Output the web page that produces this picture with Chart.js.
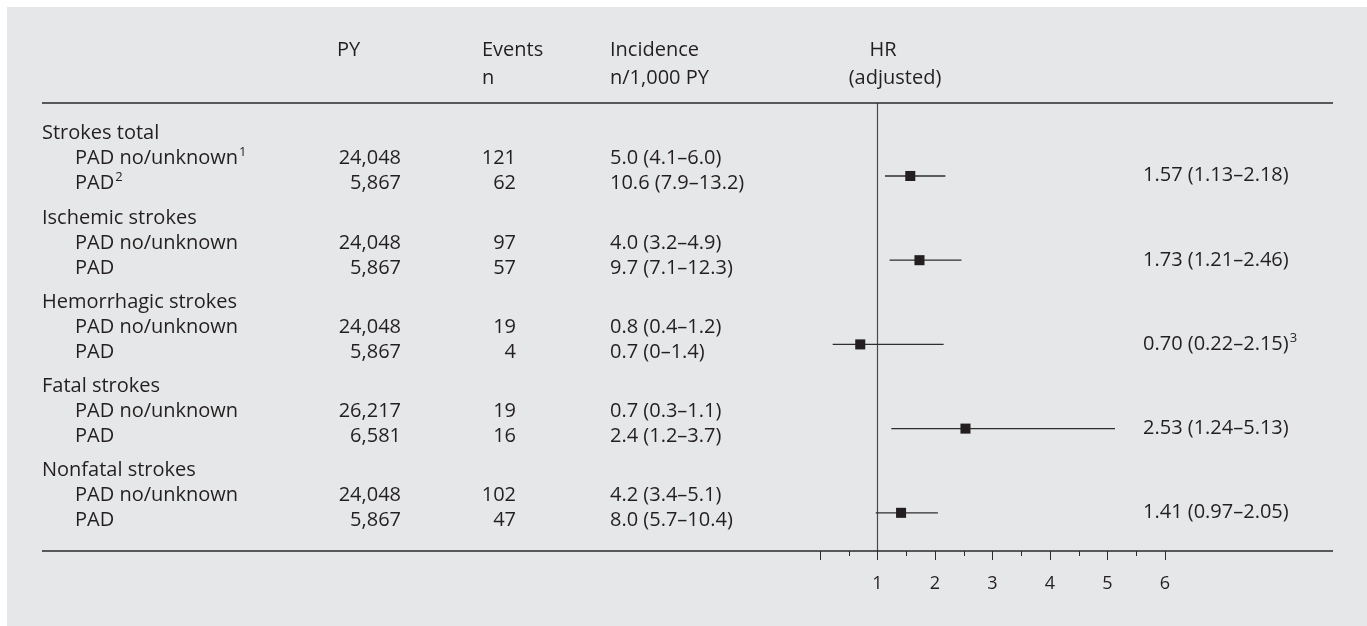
<!DOCTYPE html>
<html>
<head>
<meta charset="utf-8">
<script src="https://cdn.jsdelivr.net/npm/chart.js@4.4.1/dist/chart.umd.min.js"></script>
<style>
  html, body { margin: 0; padding: 0; background: #ffffff; }
  #wrap { position: absolute; left: 0; top: 0; width: 1367px; height: 626px; }
</style>
</head>
<body>
<div id="wrap"><canvas id="forest" width="1367" height="626"></canvas></div>
<script>
// ---- table data -------------------------------------------------------
const groupLabels = ['Strokes total', 'Ischemic strokes', 'Hemorrhagic strokes', 'Fatal strokes', 'Nonfatal strokes'];
const subgroupLabels = ['PAD no/unknown', 'PAD'];
const firstGroupNotes = ['1', '2'];          // footnote marks on the first group's rows
const hrNotes = ['', '', '3', '', ''];        // footnote marks on the HR labels

const personYears = [[24048, 5867], [24048, 5867], [24048, 5867], [26217, 6581], [24048, 5867]];
const eventCounts = [[121, 62], [97, 57], [19, 4], [19, 16], [102, 47]];
const incidenceRate = [[5.0, 10.6], [4.0, 9.7], [0.8, 0.7], [0.7, 2.4], [4.2, 8.0]];
const incidenceLow = [[4.1, 7.9], [3.2, 7.1], [0.4, 0], [0.3, 1.2], [3.4, 5.7]];
const incidenceHigh = [[6.0, 13.2], [4.9, 12.3], [1.2, 1.4], [1.1, 3.7], [5.1, 10.4]];

const hazardRatio = [1.57, 1.73, 0.70, 2.53, 1.41];
const hazardLow = [1.13, 1.21, 0.22, 1.24, 0.97];
const hazardHigh = [2.18, 2.46, 2.15, 5.13, 2.05];

const axisTickLabels = [1, 2, 3, 4, 5, 6];

// ---- layout / style ---------------------------------------------------
const FONT = '"Open Sans", "Noto Sans", sans-serif';
const FS = 20;
const INK = '#231f20';
const RULE = '#2b2b2b';
const PANEL = '#e6e7e8';
const X_MIN = 0, X_MAX = 6;
// vertical units: one group occupies 3 units; header at 3g, subrows just below it
const Y_MIN = -1.05, Y_MAX = 14.91;
const SUB_STEP = 0.89;     // spacing of subrows inside a group
const EST_ROW = 1.55;      // vertical place of the estimate within a group
const LABEL_ROW = 1.49;    // vertical place of the HR text within a group

const fmtInt = v => v.toLocaleString('en-US');
const fmt1 = v => (v === 0 ? '0' : v.toFixed(1));
const fmt2 = v => v.toFixed(2);

// datasets: reference line at HR = 1, CI whiskers, point estimates
const datasets = [];
datasets.push({
  type: 'line',
  data: [{ x: 1, y: Y_MIN }, { x: 1, y: Y_MAX }],
  borderColor: '#4a4a4a', borderWidth: 1.2, pointRadius: 0, order: 3
});
hazardRatio.forEach((v, g) => {
  const row = 3 * g + EST_ROW;
  datasets.push({
    type: 'line',
    data: [{ x: hazardLow[g], y: row }, { x: hazardHigh[g], y: row }],
    borderColor: '#2e2e2e', borderWidth: 1.3, pointRadius: 0, order: 2
  });
});
datasets.push({
  type: 'scatter',
  data: hazardRatio.map((v, g) => ({ x: v, y: 3 * g + EST_ROW })),
  backgroundColor: INK, borderWidth: 0,
  pointStyle: 'rect', pointRadius: 7.1, pointHoverRadius: 7.1, order: 1
});

function textWithSup(ctx, txt, sup, x, y, align) {
  ctx.font = FS + 'px ' + FONT;
  ctx.textAlign = 'left';
  const w = ctx.measureText(txt).width;
  let x0 = x;
  if (align === 'right') x0 = x - w;
  if (align === 'center') x0 = x - w / 2;
  ctx.fillText(txt, x0, y);
  if (sup) {
    ctx.font = '13px ' + FONT;
    ctx.fillText(sup, x0 + w + 1, y - 8);
  }
}

const tablePlugin = {
  id: 'forestTable',
  beforeDraw(chart) {
    const ctx = chart.ctx;
    ctx.save();
    ctx.fillStyle = '#ffffff';
    ctx.fillRect(0, 0, chart.width, chart.height);
    ctx.fillStyle = PANEL;
    ctx.fillRect(7, 7, chart.width - 7, chart.height - 7);
    ctx.restore();
  },
  afterDraw(chart) {
    const ctx = chart.ctx;
    const ys = chart.scales.y, xs = chart.scales.x;
    const area = chart.chartArea;
    ctx.save();
    ctx.fillStyle = INK;
    ctx.textBaseline = 'alphabetic';

    // column headers
    const h1 = 56, h2 = 84;
    textWithSup(ctx, 'PY', '', 337, h1, 'left');
    textWithSup(ctx, 'Events', '', 482, h1, 'left');
    textWithSup(ctx, 'n', '', 482, h2, 'left');
    textWithSup(ctx, 'Incidence', '', 610, h1, 'left');
    textWithSup(ctx, 'n/1,000 PY', '', 610, h2, 'left');
    textWithSup(ctx, 'HR', '', 883, h1, 'center');
    textWithSup(ctx, '(adjusted)', '', 895, h2, 'center');

    // rules
    ctx.strokeStyle = RULE;
    ctx.lineWidth = 1.5;
    ctx.beginPath();
    ctx.moveTo(42, area.top); ctx.lineTo(1333, area.top);
    ctx.moveTo(42, area.bottom); ctx.lineTo(1333, area.bottom);
    ctx.stroke();

    // half-unit minor ticks
    ctx.lineWidth = 1;
    ctx.beginPath();
    for (let v = X_MIN + 0.5; v < X_MAX; v += 1) {
      const px = Math.round(xs.getPixelForValue(v)) + 0.5;
      ctx.moveTo(px, area.bottom); ctx.lineTo(px, area.bottom + 5);
    }
    ctx.stroke();

    // table body
    const off = 7;
    groupLabels.forEach((lab, g) => {
      const yHead = ys.getPixelForValue(3 * g) + off;
      textWithSup(ctx, lab, '', 42, yHead, 'left');
      for (let k = 0; k < 2; k++) {
        const y = ys.getPixelForValue(3 * g + SUB_STEP * (k + 1)) + off;
        textWithSup(ctx, subgroupLabels[k], g === 0 ? firstGroupNotes[k] : '', 75, y, 'left');
        textWithSup(ctx, fmtInt(personYears[g][k]), '', 401, y, 'right');
        textWithSup(ctx, String(eventCounts[g][k]), '', 516, y, 'right');
        textWithSup(ctx, fmt1(incidenceRate[g][k]) + ' (' + fmt1(incidenceLow[g][k]) + '\u2013' + fmt1(incidenceHigh[g][k]) + ')', '', 610, y, 'left');
      }
      const yHr = ys.getPixelForValue(3 * g + LABEL_ROW) + off;
      textWithSup(ctx, fmt2(hazardRatio[g]) + ' (' + fmt2(hazardLow[g]) + '\u2013' + fmt2(hazardHigh[g]) + ')', hrNotes[g], 1143, yHr, 'left');
    });
    ctx.restore();
  }
};

new Chart(document.getElementById('forest'), {
  data: { datasets },
  options: {
    responsive: false,
    animation: false,
    events: [],
    layout: { padding: { left: 820, right: 202, top: 103, bottom: 0 } },
    plugins: { legend: { display: false }, tooltip: { enabled: false } },
    scales: {
      x: {
        type: 'linear', min: X_MIN, max: X_MAX,
        afterFit: s => { s.height = 75; },
        border: { display: false },
        grid: { drawOnChartArea: false, drawTicks: true, tickLength: 9, tickColor: RULE, tickWidth: 1 },
        ticks: {
          stepSize: 1, padding: 13, color: INK,
          font: { family: FONT, size: 18 },
          callback: v => (axisTickLabels.includes(v) ? String(v) : '')
        }
      },
      y: {
        type: 'linear', min: Y_MIN, max: Y_MAX, reverse: true, display: false
      }
    }
  },
  plugins: [tablePlugin]
});
</script>
</body>
</html>
